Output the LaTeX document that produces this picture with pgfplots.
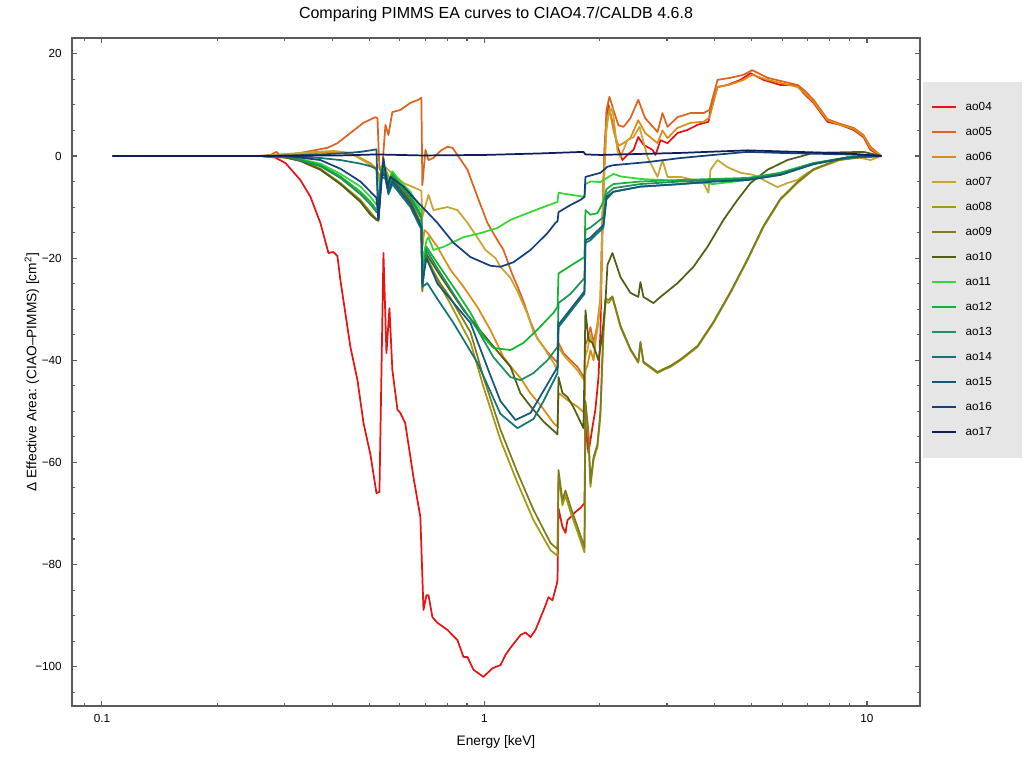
\documentclass[border=0pt]{standalone}
\usepackage{fontspec}
\setmainfont{Liberation Sans}
\usepackage{pgfplots}
\pgfplotsset{compat=1.18}
\definecolor{c04}{HTML}{E81414}
\definecolor{c05}{HTML}{DC641E}
\definecolor{c06}{HTML}{DA8C14}
\definecolor{c07}{HTML}{C8A532}
\definecolor{c08}{HTML}{A59614}
\definecolor{c09}{HTML}{7D7D1E}
\definecolor{c10}{HTML}{505F14}
\definecolor{c11}{HTML}{32D732}
\definecolor{c12}{HTML}{14B432}
\definecolor{c13}{HTML}{1E915A}
\definecolor{c14}{HTML}{147373}
\definecolor{c15}{HTML}{145A78}
\definecolor{c16}{HTML}{14417D}
\definecolor{c17}{HTML}{0F1E5A}
\definecolor{axgray}{HTML}{5A5A5A}
\definecolor{leggray}{HTML}{E6E6E6}
\begin{document}
\begin{tikzpicture}[x=1pt,y=1pt]
\path[use as bounding box] (0,0) rectangle (768,576);
\fill[leggray] (692.25,232.5) rectangle (766.5,514.5);
\begin{axis}[
 at={(54pt,46.5pt)}, anchor=south west, scale only axis, width=636pt, height=501pt,
 xmode=log, xmin=0.0835, xmax=13.76, ymin=-107.7, ymax=23.1,
 xtick={0.1,1,10}, xticklabels={0.1,1,10},
 minor xtick={0.09,0.2,0.3,0.4,0.5,0.6,0.7,0.8,0.9,2,3,4,5,6,7,8,9},
 ytick={-100,-80,-60,-40,-20,0,20}, yticklabels={−100,−80,−60,−40,−20,0,20},
 minor ytick={-105,-100,...,20},
 tick align=inside, xtick pos=both, ytick pos=both, xticklabel pos=lower, yticklabel pos=left,
 major tick length=3.5pt, minor tick length=2.2pt,
 axis line style={axgray, line width=1.1pt},
 every tick/.style={axgray, line width=0.8pt},
 tick label style={font=\fontsize{8.8}{10}\selectfont, inner sep=0pt},
 xticklabel style={yshift=-6pt},
 yticklabel style={xshift=-7.5pt},
 title={Comparing PIMMS EA curves to CIAO4.7/CALDB 4.6.8},
 title style={font=\fontsize{12}{14}\selectfont, at={(axis description cs:0.5,1.024)}, anchor=center},
 xlabel={Energy [keV]},
 xlabel style={font=\fontsize{10.3}{12}\selectfont, at={(axis description cs:0.5,-0.0539)}, anchor=center},
 ylabel={Δ Effective Area: (CIAO–PIMMS) [cm\textsuperscript{2}]},
 ylabel style={font=\fontsize{10.3}{12}\selectfont, at={(axis description cs:-0.0472,0.5)}, anchor=center},
 legend style={at={(1.01297,0.9154)}, anchor=north west, draw=none, fill=none, inner sep=0pt, row sep=0pt,
   font=\fontsize{8.8}{10}\selectfont, nodes={inner sep=0pt, minimum height=18.75pt},
   /tikz/every odd column/.append style={column sep=6.5pt}},
 legend cell align=left,
 legend image code/.code={\draw[#1] (0pt,0pt) -- (18pt,0pt);},
 every axis plot/.append style={line width=1.3pt, line join=round},
]
% ao04
\addplot[c04] coordinates {(0.1066,0)(0.2593,0)(0.2837,-0.3)(0.3019,-1.4)(0.311,-2.5)(0.3302,-4.7)(0.3508,-8)(0.3724,-13.1)(0.391,-19)(0.4029,-18.8)(0.4126,-19.6)(0.4201,-24.3)(0.4462,-37.4)(0.4656,-43.9)(0.4828,-52.3)(0.5034,-58.5)(0.5219,-66)(0.5314,-65.8)(0.5444,-19)(0.5543,-38.6)(0.5644,-29.8)(0.5744,-41.9)(0.5923,-49.7)(0.6025,-50.3)(0.6206,-52.3)(0.6522,-62.9)(0.6799,-70.7)(0.6928,-88.9)(0.7053,-86)(0.7139,-86)(0.7311,-90.3)(0.7534,-91.4)(0.8002,-92.8)(0.85,-94.8)(0.8813,-98.1)(0.9028,-98.1)(0.9359,-100.6)(0.994,-102)(1.0493,-100.3)(1.1011,-99.7)(1.1347,-97.7)(1.1696,-96.3)(1.2424,-93.8)(1.28,-93.3)(1.3195,-94.2)(1.3597,-92.8)(1.4441,-88)(1.4699,-86.4)(1.506,-87)(1.5432,-84)(1.5524,-83)(1.5617,-69)(1.599,-72.6)(1.6286,-73.8)(1.648,-71.3)(1.6785,-70.7)(1.7295,-69.7)(1.7828,-68.9)(1.826,-68)(1.8367,-52)(1.87,-58.2)(1.9165,-53)(1.9498,-49.7)(1.9868,-43.3)(2.0094,-34.7)(2.0344,-14.5)(2.059,1.2)(2.0838,7)(2.109,10)(2.1607,6.5)(2.227,1.8)(2.295,-0.8)(2.365,0.2)(2.453,1.2)(2.524,3.7)(2.604,2.2)(2.75,1.2)(2.8,0.2)(2.885,3.1)(3.009,2.5)(3.197,4.5)(3.395,5.1)(3.606,6.1)(3.851,6.7)(3.899,9)(4.067,13.5)(4.319,13.9)(4.669,14.9)(4.96,16.2)(5.364,14.9)(5.935,13.9)(6.58,13.9)(6.823,12.3)(7.247,10.4)(7.884,6.7)(8.506,6.1)(9.221,5.1)(9.79,3.7)(10.21,1.2)(10.9,0)};
\addlegendentry{ao04}
% ao05
\addplot[c05] coordinates {(0.1066,0)(0.2593,0)(0.2757,0.2)(0.286,0.8)(0.2929,0)(0.3302,0.6)(0.3887,1.6)(0.4126,2.5)(0.4462,4.5)(0.4828,6.5)(0.5188,7.6)(0.5252,7.4)(0.5314,-2.7)(0.5412,-1.8)(0.551,6.1)(0.5609,4.1)(0.5744,8.6)(0.6025,9)(0.6403,10.4)(0.6721,11)(0.684,11.4)(0.6881,-5.7)(0.701,1.2)(0.7139,-0.8)(0.7356,-0.4)(0.7671,1)(0.8002,1.8)(0.8248,1.6)(0.85,0.2)(0.9028,-2.7)(0.9587,-8)(1.018,-13.1)(1.0813,-16.5)(1.1211,-18.4)(1.184,-23.3)(1.2198,-25.5)(1.2647,-28.5)(1.3195,-32.5)(1.3757,-35.8)(1.4612,-38.4)(1.5524,-40.5)(1.5617,-36.6)(1.6087,-38.6)(1.6785,-40)(1.7504,-41.3)(1.826,-43.5)(1.8367,-37)(1.8589,-36)(1.8925,-33.5)(1.928,-36.6)(1.974,-33)(2.0094,-28)(2.046,-5)(2.0838,9)(2.122,11.6)(2.174,9)(2.24,6)(2.309,5.7)(2.407,7.4)(2.524,11)(2.631,7.4)(2.834,4.7)(2.92,8.4)(3.009,5.7)(3.197,7.6)(3.458,8.4)(3.737,8.4)(3.875,9)(4.067,14.9)(4.397,15.3)(4.754,15.9)(5.013,16.8)(5.495,15.3)(6.58,13.9)(6.823,13)(7.247,11)(7.884,7.2)(8.506,6.3)(9.221,5.5)(9.79,4.1)(10.21,1.8)(10.9,0)};
\addlegendentry{ao05}
% ao06
\addplot[c06] coordinates {(0.1066,0)(0.2593,0)(0.3302,0.4)(0.4029,0.8)(0.4462,0.4)(0.4739,-0.4)(0.5034,-1.4)(0.5219,-2.5)(0.5314,-4)(0.5412,-2.5)(0.551,-2.7)(0.5679,-4.7)(0.6025,-5.5)(0.6403,-7.6)(0.6799,-11.9)(0.684,-12)(0.6881,-18)(0.6964,-14.5)(0.709,-15)(0.7534,-17.8)(0.8149,-22.3)(0.8813,-25.6)(0.9587,-29.6)(1.0368,-34.1)(1.1211,-39.4)(1.1909,-41.9)(1.2424,-43.5)(1.3195,-46.5)(1.4015,-48.8)(1.5153,-52.3)(1.5524,-53)(1.5617,-46.4)(1.6482,-47.8)(1.7504,-49.1)(1.826,-50.3)(1.8367,-42)(1.8589,-41)(1.8925,-38)(1.928,-40)(1.974,-33)(2.0094,-28)(2.046,-5)(2.0838,6)(2.122,9.4)(2.174,5)(2.24,2)(2.309,2.5)(2.407,3.5)(2.524,7)(2.631,4.5)(2.834,2.5)(2.92,5)(3.009,3.5)(3.197,5.5)(3.458,6.5)(3.737,6.7)(3.875,7.5)(4.067,13.5)(4.397,14)(4.754,14.9)(5.013,15.9)(5.495,14.9)(6.58,13.5)(6.823,12.5)(7.247,10.6)(7.884,7)(8.506,6.1)(9.221,5.3)(9.79,3.9)(10.21,1.5)(10.9,0)};
\addlegendentry{ao06}
% ao07
\addplot[c07] coordinates {(0.1066,0)(0.2593,0)(0.3302,0.6)(0.4029,1)(0.4462,0.6)(0.4944,-1.4)(0.5219,-2.7)(0.5314,-5)(0.5412,-2)(0.551,-2.2)(0.5679,-3.1)(0.6141,-5.3)(0.6799,-6.7)(0.684,-6.9)(0.6881,-11.9)(0.7139,-7.6)(0.7356,-10.6)(0.8002,-10)(0.85,-10.6)(0.9028,-13.1)(0.9587,-16)(1.006,-18.4)(1.0686,-20)(1.1011,-21.7)(1.1696,-23.9)(1.2198,-26.5)(1.296,-31)(1.3433,-34.5)(1.4265,-37.4)(1.5153,-40.5)(1.5524,-42)(1.5617,-37.4)(1.6087,-39)(1.6785,-40.5)(1.7504,-42)(1.826,-44)(1.8367,-39)(1.8589,-38)(1.8925,-35)(1.928,-37.5)(1.974,-34)(2.0094,-29)(2.046,-8)(2.0838,5)(2.109,8)(2.1607,9.4)(2.227,1)(2.267,-0.2)(2.365,3.1)(2.453,3.7)(2.542,5.7)(2.668,-0.2)(2.834,-4.1)(2.92,-0.8)(3.009,-4.1)(3.257,-4.1)(3.519,-4.7)(3.737,-5.3)(3.851,-7.2)(3.899,-2.7)(4.067,-0.8)(4.319,-2.2)(4.669,-3.3)(5.049,-3.7)(5.364,-4.7)(5.834,-6.1)(6.197,-5.3)(6.58,-4.7)(6.988,-3.3)(7.545,-2.2)(8.506,-0.8)(9.445,-0.2)(10.21,-0.8)(10.9,0)};
\addlegendentry{ao07}
% ao08
\addplot[c08] coordinates {(0.1066,0)(0.2593,0)(0.3019,-0.3)(0.3302,-0.8)(0.3724,-2.5)(0.4201,-5.3)(0.4739,-8.6)(0.5034,-11)(0.5219,-12.5)(0.5283,-12.5)(0.5379,-2)(0.551,-3.5)(0.5609,-6)(0.5744,-4)(0.6025,-6)(0.6403,-8.6)(0.6799,-12.9)(0.684,-13)(0.6881,-26)(0.7011,-18)(0.709,-20)(0.7671,-25.5)(0.8149,-29)(0.9192,-36.5)(0.994,-45.2)(1.1011,-55.6)(1.2198,-64)(1.3433,-71.3)(1.4886,-77.2)(1.5524,-78.3)(1.5617,-62.5)(1.599,-68.4)(1.6286,-66.5)(1.6785,-69.7)(1.7504,-73.6)(1.826,-77.6)(1.8367,-50)(1.87,-55)(1.8925,-64.8)(1.928,-59.5)(1.974,-57)(2.0094,-51)(2.046,-35)(2.072,-28.4)(2.109,-28.8)(2.1607,-27.8)(2.267,-33.5)(2.407,-38)(2.524,-40.5)(2.557,-36.6)(2.604,-40.5)(2.834,-42.5)(2.938,-41.9)(3.063,-41.3)(3.257,-40)(3.606,-37.4)(3.968,-32.7)(4.397,-26.8)(4.871,-20.4)(5.364,-13.9)(5.935,-8.6)(6.58,-5.3)(7.247,-2.7)(8.374,-0.8)(9.79,-0.2)(10.9,0)};
\addlegendentry{ao08}
% ao09
\addplot[c09] coordinates {(0.1066,0)(0.2593,0)(0.3019,-0.3)(0.3302,-0.9)(0.3724,-2.6)(0.4201,-5.5)(0.4739,-8.8)(0.5034,-11.3)(0.5219,-12.3)(0.5283,-12.3)(0.5379,-2.3)(0.551,-3.8)(0.5609,-6.3)(0.5744,-4.3)(0.6025,-6.3)(0.6403,-9)(0.6799,-13.3)(0.684,-13.5)(0.6881,-26.5)(0.7011,-19)(0.709,-20.5)(0.7671,-25)(0.8149,-27.8)(0.9192,-34.5)(0.994,-43.3)(1.1011,-53.6)(1.2198,-62)(1.3433,-69.3)(1.4886,-75.8)(1.5524,-77)(1.5617,-61.5)(1.599,-67.4)(1.6286,-65.5)(1.6785,-68.7)(1.7504,-72.6)(1.826,-76.6)(1.8367,-48)(1.87,-54)(1.8925,-64)(1.928,-59)(1.974,-56.5)(2.0094,-50)(2.046,-34)(2.072,-28)(2.109,-28.2)(2.1607,-27.5)(2.267,-33.2)(2.407,-37.8)(2.524,-40.3)(2.557,-36.4)(2.604,-40.3)(2.834,-42.3)(2.938,-41.7)(3.063,-41.1)(3.257,-39.8)(3.606,-37.2)(3.968,-32.5)(4.397,-26.6)(4.871,-20.2)(5.364,-13.7)(5.935,-8.4)(6.58,-5.1)(7.247,-2.6)(8.374,-0.8)(9.79,-0.2)(10.9,0)};
\addlegendentry{ao09}
% ao10
\addplot[c10] coordinates {(0.1066,0)(0.2593,0)(0.3019,-0.3)(0.3302,-1)(0.3724,-2.7)(0.4201,-5.5)(0.4739,-9)(0.5034,-11.5)(0.5219,-12.5)(0.5283,-12.7)(0.5379,-3)(0.551,-4)(0.5609,-6.5)(0.5744,-4.5)(0.6025,-6.5)(0.6403,-9)(0.6799,-13.3)(0.684,-13.5)(0.6881,-25)(0.7011,-19)(0.709,-19.5)(0.7671,-23.5)(0.8813,-30.2)(1.0368,-36.6)(1.1696,-41.3)(1.2424,-46.5)(1.3195,-49)(1.4265,-52)(1.5524,-54.5)(1.5617,-43.3)(1.599,-46.4)(1.6482,-47.2)(1.7088,-49.2)(1.815,-53.3)(1.8367,-30.2)(1.87,-36)(1.9165,-36.6)(1.9868,-40)(2.0344,-34.7)(2.072,-28.4)(2.097,-21.3)(2.1607,-19)(2.267,-23.7)(2.407,-26.8)(2.524,-27.6)(2.557,-24.7)(2.604,-27.6)(2.766,-28.8)(2.885,-27.6)(3.197,-24.9)(3.519,-21.7)(3.828,-17.8)(4.216,-12.5)(4.586,-8.6)(4.96,-5.3)(5.495,-2.7)(6.197,-0.8)(7.247,0.6)(9.79,0.8)(10.9,0)};
\addlegendentry{ao10}
% ao11
\addplot[c11] coordinates {(0.1066,0)(0.2593,0)(0.311,-0.2)(0.3724,-1.5)(0.4201,-3.5)(0.4739,-6)(0.5034,-8)(0.5219,-9.5)(0.5283,-9.5)(0.5379,-2)(0.551,-2.5)(0.5609,-5)(0.5744,-3)(0.6025,-5)(0.6403,-7)(0.6799,-10.5)(0.684,-10.6)(0.6881,-21)(0.7053,-16.5)(0.7139,-15.9)(0.7356,-18.4)(0.7812,-17.8)(0.8813,-15.9)(0.9762,-15.1)(1.0813,-14.1)(1.1696,-12.5)(1.296,-11.2)(1.4265,-10)(1.5524,-9)(1.5617,-7.2)(1.6785,-7.6)(1.826,-8)(1.8367,-5.5)(1.8925,-5)(2.0094,-5.1)(2.174,-3.5)(2.267,-4)(2.557,-4.5)(3.257,-4.9)(3.968,-5.5)(4.871,-4.7)(5.935,-3.3)(7.247,-1.4)(8.892,-0.3)(10.9,0)};
\addlegendentry{ao11}
% ao12
\addplot[c12] coordinates {(0.1066,0)(0.2593,0)(0.311,-0.2)(0.3724,-1.8)(0.4201,-4)(0.4739,-7)(0.5034,-9)(0.5219,-10.5)(0.5283,-10.5)(0.5379,-2.5)(0.551,-3)(0.5609,-5.5)(0.5744,-3.5)(0.6025,-5.5)(0.6403,-7.8)(0.6799,-11.3)(0.684,-11.4)(0.6881,-23)(0.7053,-17.8)(0.7534,-21)(0.85,-26.8)(0.9192,-30.7)(0.994,-35.4)(1.0557,-37.6)(1.1696,-38)(1.2647,-36.6)(1.3757,-34)(1.5153,-30.7)(1.5524,-29.6)(1.5617,-23)(1.6785,-21.5)(1.826,-19.8)(1.8367,-10.6)(1.8925,-11.5)(1.974,-11.2)(2.046,-9)(2.0838,-6.5)(2.174,-5.5)(2.557,-5)(3.257,-4.7)(3.968,-4.5)(4.871,-4.3)(5.935,-3.3)(7.247,-1.4)(8.892,-0.3)(10.9,0)};
\addlegendentry{ao12}
% ao13
\addplot[c13] coordinates {(0.1066,0)(0.2593,0)(0.311,-0.3)(0.3724,-2)(0.4201,-4.3)(0.4739,-7.5)(0.5034,-9.5)(0.5219,-11)(0.5283,-11)(0.5379,-2.7)(0.551,-3.3)(0.5609,-6)(0.5744,-4)(0.6025,-6)(0.6403,-8.2)(0.6799,-11.8)(0.684,-12)(0.6881,-24)(0.7053,-18.4)(0.7534,-22)(0.85,-28.2)(0.9587,-34)(1.0557,-39.4)(1.1696,-43.3)(1.2424,-43.9)(1.3433,-42.5)(1.4612,-40)(1.5524,-37.4)(1.5617,-28.8)(1.6785,-27)(1.826,-23.9)(1.8367,-14.5)(1.8925,-14)(2.046,-12)(2.0838,-7.5)(2.174,-6.3)(2.557,-5.5)(3.257,-5)(3.968,-4.7)(4.871,-4.5)(5.935,-3.5)(7.247,-1.5)(8.892,-0.3)(10.9,0)};
\addlegendentry{ao13}
% ao14
\addplot[c14] coordinates {(0.1066,0)(0.2593,0)(0.311,0)(0.3724,-0.4)(0.4201,-0.8)(0.4739,-1.5)(0.5034,-2)(0.5219,-2.5)(0.5283,-12)(0.5379,-4)(0.551,-4.5)(0.5609,-7.5)(0.5744,-5.5)(0.6025,-7.5)(0.6403,-10)(0.6799,-14)(0.684,-14.2)(0.6881,-25.6)(0.709,-24.9)(0.7534,-28)(0.8298,-32.7)(0.9587,-40.5)(1.1011,-50.5)(1.2198,-53.3)(1.3433,-51.5)(1.4265,-48)(1.5524,-42.5)(1.5617,-33.5)(1.6785,-30.5)(1.826,-27)(1.8367,-17)(1.8925,-16.5)(2.046,-14)(2.0838,-8.5)(2.174,-7)(2.557,-6)(3.257,-5.5)(3.968,-5)(4.871,-4.7)(5.935,-3.7)(7.247,-1.6)(8.892,-0.3)(10.9,0)};
\addlegendentry{ao14}
% ao15
\addplot[c15] coordinates {(0.1066,0)(0.2593,0)(0.311,0.1)(0.3724,0.3)(0.4201,0.5)(0.4739,0.8)(0.5034,1.1)(0.5219,1.3)(0.5283,-12)(0.5379,-3.5)(0.551,-4)(0.5609,-7)(0.5744,-5)(0.6025,-7)(0.6403,-9.5)(0.6799,-13.5)(0.684,-13.7)(0.6881,-25)(0.7053,-20)(0.7534,-25)(0.9192,-32.7)(1.0368,-43)(1.1011,-48)(1.205,-51.7)(1.3195,-50.3)(1.4265,-46)(1.5524,-41.3)(1.5617,-33)(1.6785,-30)(1.826,-26.5)(1.8367,-16.5)(1.8925,-16)(2.046,-13.5)(2.0838,-8)(2.174,-7)(2.557,-6)(3.257,-5.5)(3.968,-5)(4.871,-4.7)(5.935,-3.7)(7.247,-1.6)(8.892,-0.3)(10.9,0)};
\addlegendentry{ao15}
% ao16
\addplot[c16] coordinates {(0.1066,0)(0.2593,0)(0.311,-0.1)(0.3724,-0.8)(0.4201,-2.5)(0.4739,-5)(0.5034,-7)(0.5219,-8.2)(0.5283,-12.5)(0.5444,-0.4)(0.5577,-6)(0.5679,-4.1)(0.6141,-6)(0.6799,-9.6)(0.7534,-13.1)(0.8298,-17)(0.9192,-19.8)(1.0368,-21.5)(1.1011,-21.7)(1.1909,-20.8)(1.3195,-18.4)(1.4612,-15.1)(1.533,-13.1)(1.5524,-12.8)(1.5617,-11)(1.6785,-9.6)(1.7828,-8.6)(1.826,-8)(1.8367,-4.1)(2.0094,-3.3)(2.097,-2.1)(2.174,-1.8)(2.668,-1.2)(3.257,-0.4)(3.968,0.2)(4.871,0.8)(5.935,0.6)(8.892,0.3)(10.9,0)};
\addlegendentry{ao16}
% ao17
\addplot[c17] coordinates {(0.1066,0)(0.2593,0)(0.4201,0.1)(0.5219,0.3)(0.6881,0.1)(1,0.2)(1.4015,0.5)(1.815,0.8)(1.8367,0.3)(2.0094,0.2)(3.257,0.6)(4.871,1.1)(5.935,0.9)(8.892,0.5)(10.9,0)};
\addlegendentry{ao17}
\end{axis}
\end{tikzpicture}
\end{document}
